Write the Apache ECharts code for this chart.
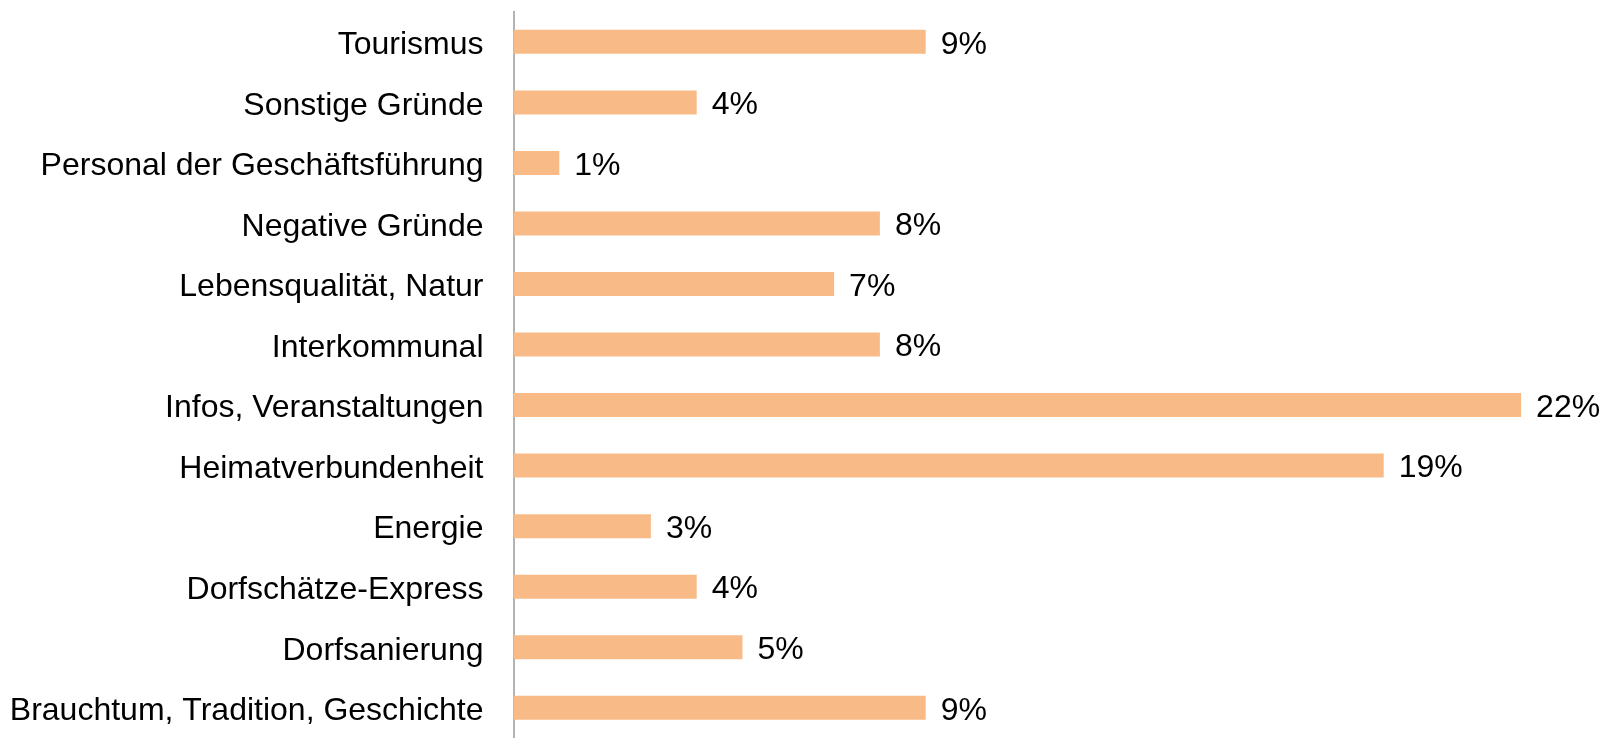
<!DOCTYPE html>
<html>
<head>
<meta charset="utf-8">
<script src="https://cdn.jsdelivr.net/npm/echarts@6/dist/echarts.min.js"></script>
<style>
html,body{margin:0;padding:0;background:#fff;}
#chart{width:1606px;height:738px;}
</style>
</head>
<body>
<div id="chart"></div>
<script>
const categories = [
  "Tourismus",
  "Sonstige Gründe",
  "Personal der Geschäftsführung",
  "Negative Gründe",
  "Lebensqualität, Natur",
  "Interkommunal",
  "Infos, Veranstaltungen",
  "Heimatverbundenheit",
  "Energie",
  "Dorfschätze-Express",
  "Dorfsanierung",
  "Brauchtum, Tradition, Geschichte"
];
const values = [9, 4, 1, 8, 7, 8, 22, 19, 3, 4, 5, 9];

const chart = echarts.init(document.getElementById('chart'), null, {renderer: 'canvas'});
chart.setOption({
  animation: false,
  backgroundColor: '#ffffff',
  grid: {left: 513.5, right: 39.1, top: 11.6, bottom: -3.8, containLabel: false},
  xAxis: {
    type: 'value', min: 0, max: 23,
    show: false,
    splitLine: {show: false}
  },
  yAxis: {
    type: 'category',
    data: categories,
    inverse: true,
    axisLine: {show: true, lineStyle: {color: '#9a9a9a', width: 1.5}},
    axisTick: {show: false},
    axisLabel: {
      margin: 30,
      color: '#000000',
      fontFamily: '"Liberation Sans", Arial, sans-serif',
      fontSize: 32,
      formatter: function (v) { return '{a|' + v + '}'; },
      rich: {
        a: {
          color: '#000000',
          fontFamily: '"Liberation Sans", Arial, sans-serif',
          fontSize: 32,
          lineHeight: 32,
          padding: [7, 0, 0, 0]
        }
      }
    }
  },
  series: [{
    type: 'bar',
    data: values,
    barWidth: 24,
    itemStyle: {color: '#F8BB87'},
    label: {
      show: true,
      position: 'right',
      distance: 15,
      offset: [0, 3],
      formatter: '{c}%',
      color: '#000000',
      fontFamily: '"Liberation Sans", Arial, sans-serif',
      fontSize: 32
    }
  }]
});
</script>
</body>
</html>
